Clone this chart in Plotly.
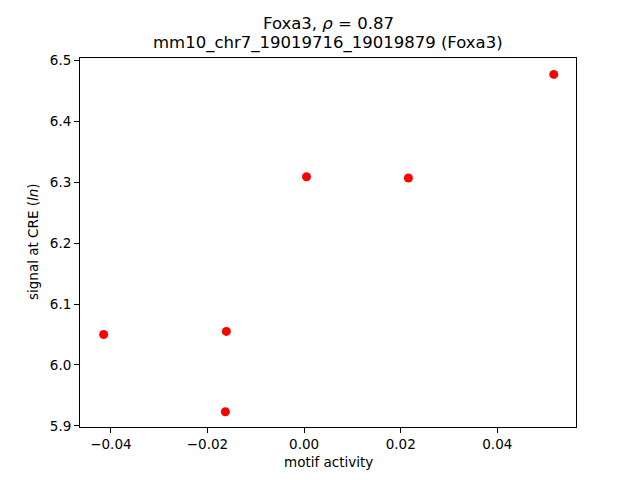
import plotly.graph_objects as go

motif_activity = [-0.0415, -0.0161, -0.0163, 0.0005, 0.0216, 0.0517]
signal_ln = [6.050, 6.055, 5.923, 6.309, 6.307, 6.477]
x_ticks = [-0.04, -0.02, 0.0, 0.02, 0.04]
x_tick_labels = ["\u22120.04", "\u22120.02", "0.00", "0.02", "0.04"]
y_ticks = [5.9, 6.0, 6.1, 6.2, 6.3, 6.4, 6.5]
y_tick_labels = ["5.9", "6.0", "6.1", "6.2", "6.3", "6.4", "6.5"]

FONT = "DejaVu Sans"
OFF = 8  # page body margin offset
L, R, T, B = 80 - OFF, 64 + OFF, 58 - OFF, 53 + OFF

fig = go.Figure()
fig.add_trace(go.Scatter(
    x=motif_activity, y=signal_ln, mode="markers",
    marker=dict(color="#ff0000", size=9, line=dict(width=0)),
    showlegend=False,
))

axis_common = dict(
    showgrid=False, zeroline=False, showline=True, linecolor="black", linewidth=1,
    mirror=True, ticks="outside", ticklen=5, tickwidth=1, tickcolor="black",
    tickfont=dict(family=FONT, size=13.5, color="black"),
)
fig.update_xaxes(range=[-0.0464, 0.0563], tickvals=x_ticks, ticktext=x_tick_labels, **axis_common)
fig.update_yaxes(range=[5.898, 6.504], tickvals=y_ticks, ticktext=y_tick_labels, **axis_common)

pw = 640 - L - R
ph = 480 - T - B


def px_x(x):
    return (x - OFF - L) / pw


def px_y(y):
    return (480 - B - (y - OFF)) / ph


fig.update_layout(
    width=640, height=480,
    margin=dict(l=L, r=R, t=T, b=B, pad=0),
    paper_bgcolor="white", plot_bgcolor="white",
    font=dict(family=FONT, color="black"),
    annotations=[
        dict(text="Foxa3, <i>\u03c1</i> = 0.87", x=0.5, y=px_y(24), xref="paper", yref="paper",
             showarrow=False, font=dict(size=16.5, family=FONT), xanchor="center", yanchor="middle"),
        dict(text="mm10_chr7_19019716_19019879 (Foxa3)", x=0.5, y=px_y(43), xref="paper", yref="paper",
             showarrow=False, font=dict(size=16.5, family=FONT), xanchor="center", yanchor="middle"),
        dict(text="motif activity", x=0.5, y=px_y(462), xref="paper", yref="paper",
             showarrow=False, font=dict(size=13.5, family=FONT), xanchor="center", yanchor="middle"),
        dict(text="signal at CRE (<i>ln</i>)", x=px_x(33), y=px_y(242), xref="paper", yref="paper",
             showarrow=False, font=dict(size=13.5, family=FONT), textangle=-90,
             xanchor="center", yanchor="middle"),
    ],
)

fig.write_html("out.html")
